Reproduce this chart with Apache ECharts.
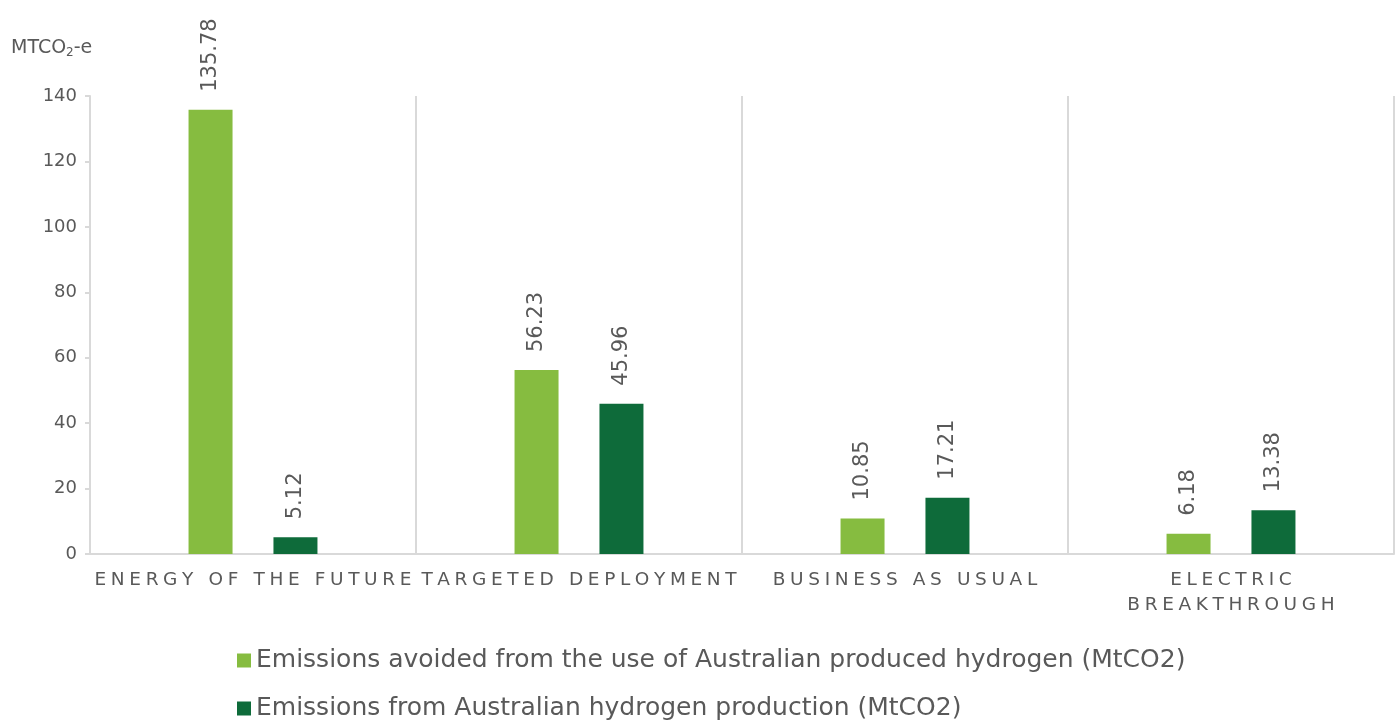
<!DOCTYPE html>
<html>
<head>
<meta charset="utf-8">
<script src="https://cdn.jsdelivr.net/npm/echarts@6/dist/echarts.min.js"></script>
<style>
  html, body { margin: 0; padding: 0; background: #fff; }
  #chart { width: 1400px; height: 725px; }
</style>
</head>
<body>
<div id="chart"></div>
<script>
// data
var scenarios = ["ENERGY OF THE FUTURE", "TARGETED DEPLOYMENT", "BUSINESS AS USUAL", "ELECTRIC\nBREAKTHROUGH"];
var avoided = [135.78, 56.23, 10.85, 6.18];
var produced = [5.12, 45.96, 17.21, 13.38];
var seriesNames = [
  "Emissions avoided from the use of Australian produced hydrogen (MtCO2)",
  "Emissions from Australian hydrogen production (MtCO2)"
];

var textGrey = "#595959";
var font = "'DejaVu Sans', Verdana, sans-serif";

function spaced(s) {
  // the original labels are letter-spaced, fake it with quarter-em spaces
  return s.split("\n").map(function (line) {
    return line.split("").join("\u2005");
  }).join("\n");
}

var barLabel = {
  show: true,
  position: "top",
  rotate: 90,
  align: "left",
  verticalAlign: "middle",
  distance: 18,
  color: textGrey,
  fontFamily: font,
  fontSize: 21,
  formatter: function (p) { return p.value.toFixed(2); }
};

var legendText = { fontFamily: font, fontSize: 25, color: textGrey };

var chart = echarts.init(document.getElementById("chart"));
var option = {
  animation: false,
  textStyle: { fontFamily: font },
  title: {
    left: 6,
    top: 32,
    text: "{a|MTCO}{s|2}{a|-e}",
    textStyle: {
      rich: {
        a: { fontFamily: font, fontSize: 19, fontWeight: "normal", color: textGrey },
        s: { fontFamily: font, fontSize: 12, fontWeight: "normal", color: textGrey, padding: [10, 0, 0, 0] }
      }
    }
  },
  grid: { left: 90, right: 6, top: 96, bottom: 171 },
  legend: [
    {
      left: 237, top: 648, padding: 0,
      itemWidth: 14, itemHeight: 14, icon: "rect",
      textStyle: legendText,
      data: [seriesNames[0]]
    },
    {
      left: 237, top: 696, padding: 0,
      itemWidth: 14, itemHeight: 14, icon: "rect",
      textStyle: legendText,
      data: [seriesNames[1]]
    }
  ],
  xAxis: {
    type: "category",
    data: scenarios,
    axisLine: { lineStyle: { color: "#d9d9d9", width: 2 } },
    axisTick: { show: false },
    splitLine: { show: true, lineStyle: { color: "#d9d9d9", width: 2 } },
    axisLabel: {
      interval: 0,
      margin: 14,
      color: textGrey,
      fontFamily: font,
      fontSize: 18.5,
      lineHeight: 25,
      formatter: spaced
    }
  },
  yAxis: {
    type: "value",
    min: 0,
    max: 140,
    interval: 20,
    axisLine: { show: true, lineStyle: { color: "#d9d9d9", width: 2 } },
    axisTick: { show: true, length: 5, lineStyle: { color: "#d9d9d9", width: 2 } },
    splitLine: { show: false },
    axisLabel: { color: textGrey, fontFamily: font, fontSize: 18, margin: 13 }
  },
  series: [
    {
      name: seriesNames[0],
      type: "bar",
      data: avoided,
      barWidth: 44,
      barGap: "93%",
      itemStyle: { color: "#86bc40" },
      label: barLabel
    },
    {
      name: seriesNames[1],
      type: "bar",
      data: produced,
      barWidth: 44,
      itemStyle: { color: "#0e6b3a" },
      label: barLabel
    }
  ]
};
chart.setOption(option);
</script>
</body>
</html>
